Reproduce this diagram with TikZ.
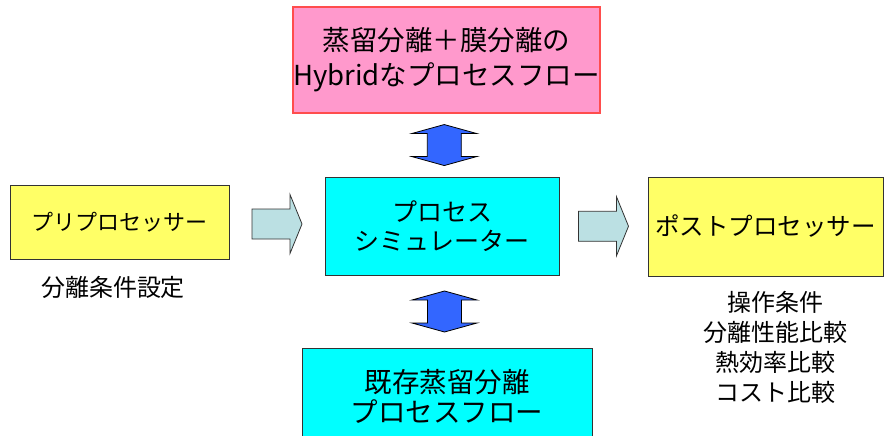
\documentclass[tikz,border=0pt]{standalone}
\usepackage{fontspec}
\setmainfont{Noto Sans CJK JP}
\usetikzlibrary{calc}
\definecolor{FlowPink}{HTML}{FF99CC}
\definecolor{FlowRed}{HTML}{FF4D4D}
\definecolor{FlowCyan}{HTML}{00FFFF}
\definecolor{FlowYellow}{HTML}{FFFF66}
\definecolor{FlowEdge}{HTML}{333333}
\definecolor{FlowPale}{HTML}{BBE0E3}
\definecolor{FlowBlue}{HTML}{3366FF}
\tikzset{
  box/.style={draw=FlowEdge, line width=1pt, align=center, inner sep=0pt},
  hybbox/.style={box, draw=FlowRed, fill=FlowPink, line width=1.2pt},
  simbox/.style={box, fill=FlowCyan},
  ppbox/.style={box, fill=FlowYellow},
  fwd/.style={draw=FlowEdge, fill=FlowPale, line width=0.8pt, line join=miter},
  both/.style={draw=black, fill=FlowBlue, line width=0.8pt, line join=miter},
  note/.style={align=center, inner sep=0pt},
}

\begin{document}
\begin{tikzpicture}[x=1pt,y=-1pt]
        \useasboundingbox (0,0) rectangle (886,436);
        \clip (0,0) rectangle (886,436);
        % boxes
        \node[hybbox, minimum width=307, minimum height=106, font=\fontsize{27.5}{35}\selectfont]
          (hyb) at (446.5,60) {蒸留分離＋膜分離の\\Hybridなプロセスフロー};
        \node[ppbox, minimum width=219, minimum height=74, font=\fontsize{22}{26}\selectfont]
          (pre) at (119.5,222) {プリプロセッサー};
        \node[simbox, minimum width=234, minimum height=98, font=\fontsize{25}{29}\selectfont]
          (sim) at (442,226) {プロセス\\シミュレーター};
        \node[ppbox, minimum width=235, minimum height=99, font=\fontsize{24.5}{28}\selectfont]
          (post) at (765.5,226.5) {ポストプロセッサー};
        \node[simbox, minimum width=290, minimum height=96, font=\fontsize{27.5}{30}\selectfont]
          (exist) at (447,396) {既存蒸留分離\\プロセスフロー};
        % notes
        \node[note, font=\fontsize{24}{28}\selectfont] (cond) at (113,287) {分離条件設定};
        \node[note, font=\fontsize{24}{30}\selectfont] (eval) at (775,347)
          {操作条件\\分離性能比較\\熱効率比較\\コスト比較};
        % block arrows
        \coordinate (a1) at ($(pre.east)!0.5!(sim.west)$);
        \coordinate (a2) at ($(sim.east)!0.5!(post.west)$);
        \coordinate (a3) at ($(hyb.south)!0.5!(sim.north)$);
        \coordinate (a4) at ($(sim.south)!0.5!(exist.north)$);
        \foreach \c in {a1,a2}
          \draw[fwd] ($(\c)+(-25,-15)$) -- ++(38,0) -- ++(0,-14.5) -- ++(12,29.5)
            -- ++(-12,29.5) -- ++(0,-14.5) -- ++(-38,0) -- cycle;
        \foreach \c in {a3,a4}
          \draw[both] ($(\c)+(0,-20.5)$) -- ++(32.5,9) -- ++(-15.5,0) -- ++(0,23)
            -- ++(15.5,0) -- ++(-32.5,9) -- ++(-32.5,-9) -- ++(15.5,0) -- ++(0,-23)
            -- ++(-15.5,0) -- cycle;
      \end{tikzpicture}
\end{document}
